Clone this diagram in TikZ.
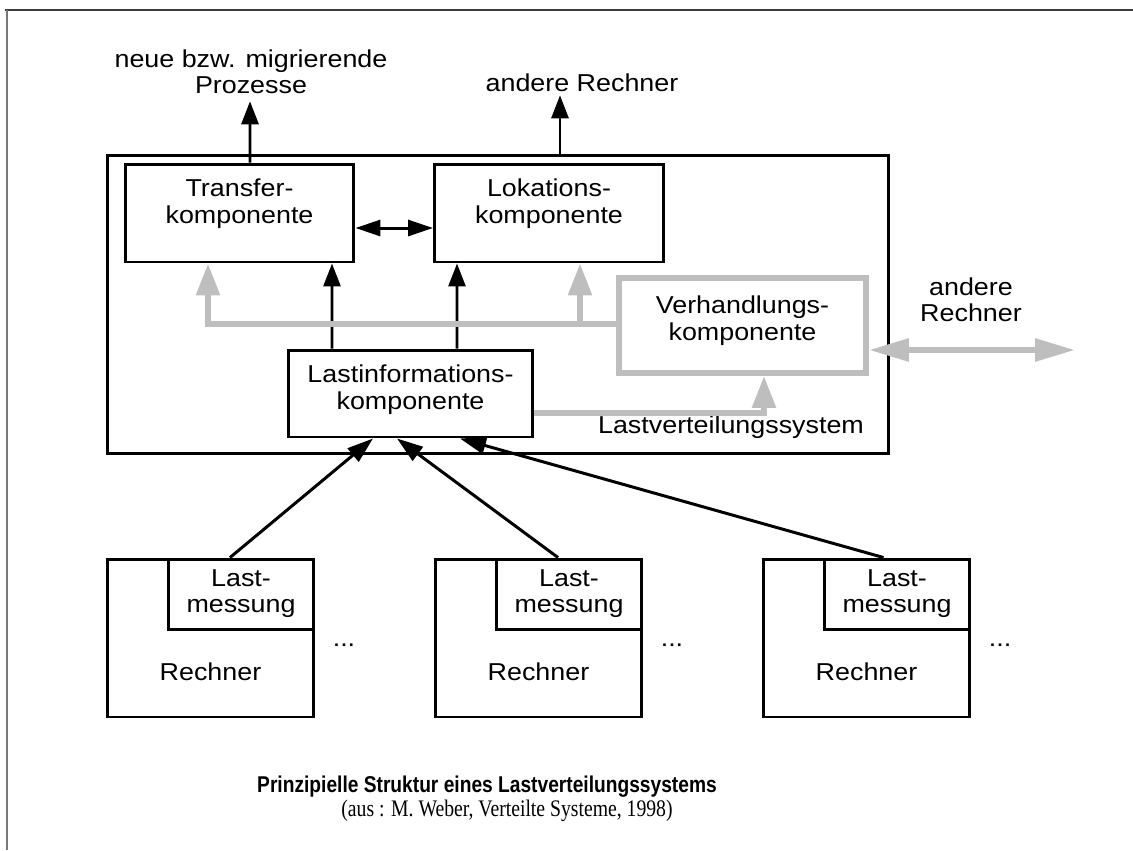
\documentclass[tikz,border=0pt]{standalone}
\usepackage{fontspec}
\setmainfont{Liberation Sans}[FakeStretch=1.1]
\newfontfamily\capsans{Liberation Sans}[FakeStretch=0.84]
\newfontfamily\capserif{Liberation Serif}[FakeStretch=0.83]
\usetikzlibrary{arrows.meta,calc}
\definecolor{lgray}{RGB}{190,190,190}
\definecolor{edgedark}{RGB}{60,60,60}
\definecolor{edgelight}{RGB}{120,120,120}
\newcommand\diagfont{\fontsize{13.9}{15}\selectfont}

\begin{document}
\begin{tikzpicture}[x=0.02cm,y=-0.02cm,
  box/.style={draw=black, line width=1.7pt, inner sep=0pt},
  gbox/.style={draw=lgray, line width=3.4pt, inner sep=0pt},
  txt/.style={font=\diagfont, align=center, inner sep=0pt},
  arr/.style={line width=1.7pt, -{Triangle[length=0.46cm,width=0.34cm]}},
  sarr/.style={line width=1.7pt, -{Triangle[length=0.52cm,width=0.34cm]}},
  darr/.style={line width=1.7pt, {Triangle[length=0.5cm,width=0.32cm]}-{Triangle[length=0.5cm,width=0.32cm]}},
  garr/.style={draw=lgray, line width=3.4pt, -{Triangle[length=0.64cm,width=0.46cm]}},
  gdarr/.style={draw=lgray, line width=3.4pt, {Triangle[length=0.8cm,width=0.44cm]}-{Triangle[length=0.8cm,width=0.44cm]}},
  pageedge/.style={line width=1.2pt}]

\useasboundingbox (0,0) rectangle (1133,850);

% page edges
\draw[pageedge, edgedark] (5,10) -- (1133,10);
\draw[pageedge, edgelight] (7,10) -- (7,850);

% load balancing system frame
\node[box, minimum width=15.64cm, minimum height=5.98cm] (sys) at (498,304.5) {};

% components
\node[box, minimum width=4.58cm, minimum height=1.96cm] (tr) at (239.5,213) {};
\node[txt] (trt) at (239.5,203.6) {Transfer-\\komponente};
\node[box, minimum width=4.58cm, minimum height=1.96cm] (lok) at (549,213) {};
\node[txt] (lokt) at (549,203.6) {Lokations-\\komponente};
\node[box, minimum width=4.9cm, minimum height=1.74cm] (li) at (410.5,393.5) {};
\node[txt] (lit) at (410.5,389.5) {Lastinformations-\\komponente};
\node[gbox, minimum width=4.94cm, minimum height=1.9cm] (vh) at (742.5,325.5) {};
\node[txt] (vht) at (742.5,320.6) {Verhandlungs-\\komponente};

% outside labels
\node[txt] (neue) at (251,71.8) {neue bzw. migrierende\\Prozesse};
\node[txt] (andr) at (582,83) {andere Rechner};
\node[txt] (andr2) at (971,300) {andere\\Rechner};
\node[txt] (lvs) at (731,427.5) {Lastverteilungssystem};

% computers with load measurement
\foreach \i/\xo in {1/0,2/328,3/656}{
  \node[box, minimum width=4.14cm, minimum height=3.16cm] (r\i) at (210.5+\xo,638) {};
  \node[box, minimum width=2.92cm, minimum height=1.4cm] (lm\i) at (241+\xo,594) {};
  \node[txt] (lmt\i) at (241+\xo,593.5) {Last-\\messung};
  \node[txt] (rt\i) at (210.5+\xo,672) {Rechner};
  \node[txt, anchor=base] (dots\i) at (344+\xo,646) {...};
}

% black connectors
\draw[arr] ($(tr.north)+(10.5,0)$) -- ($(neue.south)+(-1,7)$);
\draw[arr] ($(lok.north)+(11,-9)$) -- ($(andr.south)+(-22,3)$);
\draw[darr] ($(tr.east)+(0,15)$) -- ($(lok.west)+(0,15)$);
\draw[arr] ($(li.north)+(-78.5,0)$) -- ($(tr.south)+(92.5,0)$);
\draw[arr] ($(li.north)+(46.5,0)$) -- ($(lok.south)+(-92,0)$);
\draw[sarr] ($(lm1.north)+(-11,0)$) -- ($(li.south)+(-37.5,0)$);
\draw[sarr] ($(lm2.north)+(-11,0)$) -- ($(li.south)+(-13.5,0)$);
\draw[sarr] ($(lm3.north)+(-13.5,0)$) -- ($(li.south)+(49.5,0)$);

% grey connectors of the negotiation component
\draw[garr] ($(vh.west)+(0,-1.5)$) -| ($(tr.south)+(-31.5,0)$);
\draw[garr] ($(lok.south)+(31,62)$) -- ($(lok.south)+(31,0)$);
\draw[garr] ($(li.east)+(0,19.5)$) -| ($(vh.south)+(21.5,0)$);
\coordinate (ext) at (1075,350);
\draw[gdarr] ($(vh.east)+(0,24.5)$) -- (ext);

% caption
\node[font=\capsans\bfseries\fontsize{13}{15}\selectfont, inner sep=0pt] (cap) at (487,787) {Prinzipielle Struktur eines Lastverteilungssystems};
\node[font=\capserif\fontsize{13.5}{15}\selectfont, inner sep=0pt] (src) at (507,811) {(aus : M. Weber, Verteilte Systeme, 1998)};
\end{tikzpicture}
\end{document}
